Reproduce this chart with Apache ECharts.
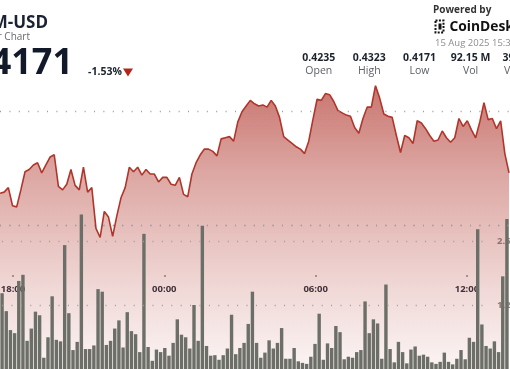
<!DOCTYPE html>
<html><head><meta charset="utf-8">
<script src="https://cdn.jsdelivr.net/npm/echarts@6/dist/echarts.min.js"></script>
<style>html,body{margin:0;padding:0;background:#fff;overflow:hidden}#c{width:510px;height:369px}</style>
</head><body><div id="c"></div>
<script>
// ---- data ----
const priceValues = [
0.4228,0.4229,0.4233,0.4217,0.4216,0.4231,0.4247,0.4249,0.4253,0.4255,
0.4246,0.4253,0.4260,0.4262,0.4234,0.4231,0.4236,0.4249,0.4235,0.4231,
0.4251,0.4229,0.4233,0.4197,0.4189,0.4212,0.4207,0.4190,0.4208,0.4224,
0.4233,0.4251,0.4247,0.4251,0.4244,0.4249,0.4245,0.4245,0.4238,0.4242,
0.4242,0.4236,0.4235,0.4242,0.4227,0.4225,0.4245,0.4255,0.4262,0.4267,
0.4267,0.4265,0.4261,0.4276,0.4277,0.4278,0.4274,0.4291,0.4300,0.4305,
0.4310,0.4307,0.4305,0.4306,0.4304,0.4310,0.4305,0.4295,0.4278,0.4275,
0.4272,0.4269,0.4267,0.4263,0.4274,0.4293,0.4311,0.4310,0.4316,0.4315,
0.4309,0.4301,0.4299,0.4297,0.4296,0.4286,0.4281,0.4294,0.4304,0.4304,
0.4323,0.4312,0.4298,0.4296,0.4295,0.4279,0.4264,0.4279,0.4277,0.4272,
0.4292,0.4290,0.4285,0.4279,0.4274,0.4275,0.4283,0.4277,0.4273,0.4277,
0.4294,0.4287,0.4292,0.4284,0.4277,0.4291,0.4308,0.4293,0.4294,0.4285,
0.4292,0.4263,0.4246];
const volumeValues = [ // millions
1.48,1.13,0.76,0.70,1.72,1.84,0.55,0.79,1.12,1.05,
0.22,0.62,1.42,0.57,0.54,2.42,1.09,0.37,0.53,3.02,
0.39,0.39,0.46,1.56,1.51,0.47,0.55,0.79,0.95,0.42,
1.11,0.74,0.68,0.33,2.64,0.43,0.16,0.38,0.33,0.41,
0.26,0.51,0.97,0.67,0.62,0.40,1.25,0.55,2.80,0.45,
0.26,0.27,0.18,0.27,0.40,1.06,0.29,0.41,0.51,0.88,
1.51,0.51,0.22,0.32,0.56,0.40,0.51,0.80,0.20,0.20,
0.41,0.15,0.12,0.10,0.24,0.49,1.08,0.18,0.50,0.41,
0.84,0.72,0.19,0.24,0.22,0.33,0.37,1.32,0.70,0.97,
0.89,0.20,1.65,0.39,0.13,0.53,0.33,0.11,0.38,0.44,
0.26,0.28,0.24,0.13,0.10,0.14,0.32,0.14,0.09,0.20,
0.37,0.19,0.61,0.53,2.73,0.87,0.45,0.40,0.54,0.33,
1.81,2.93];
const priceGridValues = [0.42, 0.425, 0.43];
const volumeTicks = [1.25, 2.5];
const volumeTickLabels = ['1.25M', '2.5M'];
const timeTickHours = [18, 24, 30, 36];
const timeTickLabels = ['18:00', '00:00', '06:00', '12:00'];
const statValues = ['0.4235', '0.4323', '0.4171', '92.15 M', '39.12 M'];
const statLabels = ['Open', 'High', 'Low', 'Vol', 'Vol (USD)'];

const startMin = 17 * 60 + 29;
function hhmm(m){ m = ((m % 1440) + 1440) % 1440; return String(Math.floor(m/60)).padStart(2,'0') + ':' + String(m%60).padStart(2,'0'); }
const lineTimes = priceValues.map((_, i) => hhmm(startMin + i * 10));
const barTimes = volumeValues.map((_, i) => hhmm(startMin + 5 + i * 10));

const FF = '"Open Sans", "Noto Sans", sans-serif';
const chart = echarts.init(document.getElementById('c'));

const statCenters = [318.8, 369.3, 419.5, 470.5];
const graphic = [
  {type:'text', style:{text:'XLM-USD', x:48, y:23.5, textAlign:'right', textVerticalAlign:'middle', fill:'#1a2233', font:'bold 17px ' + FF}},
  {type:'text', style:{text:'24 Hour Chart', x:30, y:37, textAlign:'right', textVerticalAlign:'middle', fill:'#666a70', font:'10px ' + FF}},
  {type:'text', style:{text:'0.4171', x:73, y:64, textAlign:'right', textVerticalAlign:'middle', fill:'#121a2a', font:'bold 36px ' + FF}},
  {type:'text', style:{text:'-1.53%', x:88, y:72, textAlign:'left', textVerticalAlign:'middle', fill:'#222831', font:'bold 10.5px ' + FF}},
  {type:'polygon', shape:{points:[[123,68.5],[133,68.5],[128,76.5]]}, style:{fill:'#b3261e'}},
  {type:'text', style:{text:'Powered by', x:433, y:10, textAlign:'left', textVerticalAlign:'middle', fill:'#333', font:'bold 10px ' + FF}},
  {type:'rect', shape:{x:435.5, y:20.5, width:8, height:12}, style:{fill:'none', stroke:'#111', lineWidth:2, lineDash:[2,1.4]}},
  {type:'rect', shape:{x:438.5, y:23.5, width:3, height:6}, style:{fill:'#111'}},
  {type:'text', style:{text:'CoinDesk', x:449.5, y:27, textAlign:'left', textVerticalAlign:'middle', fill:'#111', font:'bold 13.8px ' + FF}},
  {type:'text', style:{text:'15 Aug 2025 15:30 UTC', x:435, y:43, textAlign:'left', textVerticalAlign:'middle', fill:'#8a8d92', font:'9.5px ' + FF}}
];
statValues.forEach((v, i) => {
  const left = i >= statCenters.length;
  graphic.push({type:'text', style:{text:v, x: left ? 502.5 : statCenters[i], y:58, textAlign: left ? 'left' : 'center', textVerticalAlign:'middle', fill:'#1c222c', font:'bold 10.5px ' + FF}});
  graphic.push({type:'text', style:{text:statLabels[i], x: left ? 504 : statCenters[i], y:71, textAlign: left ? 'left' : 'center', textVerticalAlign:'middle', fill:'#5c6068', font:'10.5px ' + FF}});
});

const dotted = {type:[1, 8.4], color:'#9c9c9c', width:1.3};

chart.setOption({
  animation: false,
  grid: [
    {left:0, right:1, top:0, bottom:0, outerBoundsMode:'none', containLabel:false},
    {left:0, right:1, top:0, bottom:94, outerBoundsMode:'none', containLabel:false}
  ],
  xAxis: [
    {type:'category', gridIndex:0, data:barTimes, boundaryGap:true, show:false},
    {type:'category', gridIndex:0, data:lineTimes, boundaryGap:false, show:false},
    {type:'value', gridIndex:1, min:17.485, max:37.667,
      axisLine:{show:false}, splitLine:{show:false},
      axisTick:{show:true, customValues:timeTickHours, length:2, lineStyle:{color:'#8d8d8d', width:1.5}},
      axisLabel:{customValues:timeTickHours, formatter:v => timeTickLabels[timeTickHours.indexOf(v)] || '',
        margin:9, fontSize:9.5, fontWeight:'bold', color:'#2b3240', fontFamily:FF}}
  ],
  yAxis: [
    {type:'value', gridIndex:0, min:0.40729, max:0.439859, show:false, splitLine:{show:false}},
    {type:'value', gridIndex:0, min:0, max:7.207, position:'right',
      axisLine:{show:false}, axisTick:{show:false}, splitLine:{show:false},
      axisLabel:{inside:true, align:'left', margin:12, customValues:volumeTicks,
        formatter:v => volumeTickLabels[volumeTicks.indexOf(v)] || '',
        color:'#8a8a8a', fontSize:9.5, fontWeight:'bold', fontFamily:FF}},
    {type:'value', gridIndex:1, min:0, max:1, show:false}
  ],
  series: [
    {type:'line', xAxisIndex:1, yAxisIndex:0, data:priceValues, symbol:'none', z:2,
      lineStyle:{color:'#b0352b', width:1.6},
      areaStyle:{color:new echarts.graphic.LinearGradient(0,0,0,1,[
        {offset:0, color:'rgba(172,42,32,0.92)'},
        {offset:0.3, color:'rgba(172,42,32,0.6)'},
        {offset:0.7, color:'rgba(172,42,32,0.27)'},
        {offset:1, color:'rgba(172,42,32,0.07)'}])},
      markLine:{silent:true, symbol:'none', label:{show:false}, lineStyle:dotted,
        data: priceGridValues.map(v => ({yAxis:v}))}},
    {type:'bar', xAxisIndex:0, yAxisIndex:1, data:volumeValues, barWidth:3.4, z:3,
      itemStyle:{color:'#6c6f67'},
      markLine:{silent:true, symbol:'none', label:{show:false}, lineStyle:dotted,
        data: volumeTicks.map(v => [{coord:[0, v]}, {coord:[117, v]}])}}
  ],
  graphic: graphic
});
</script></body></html>
